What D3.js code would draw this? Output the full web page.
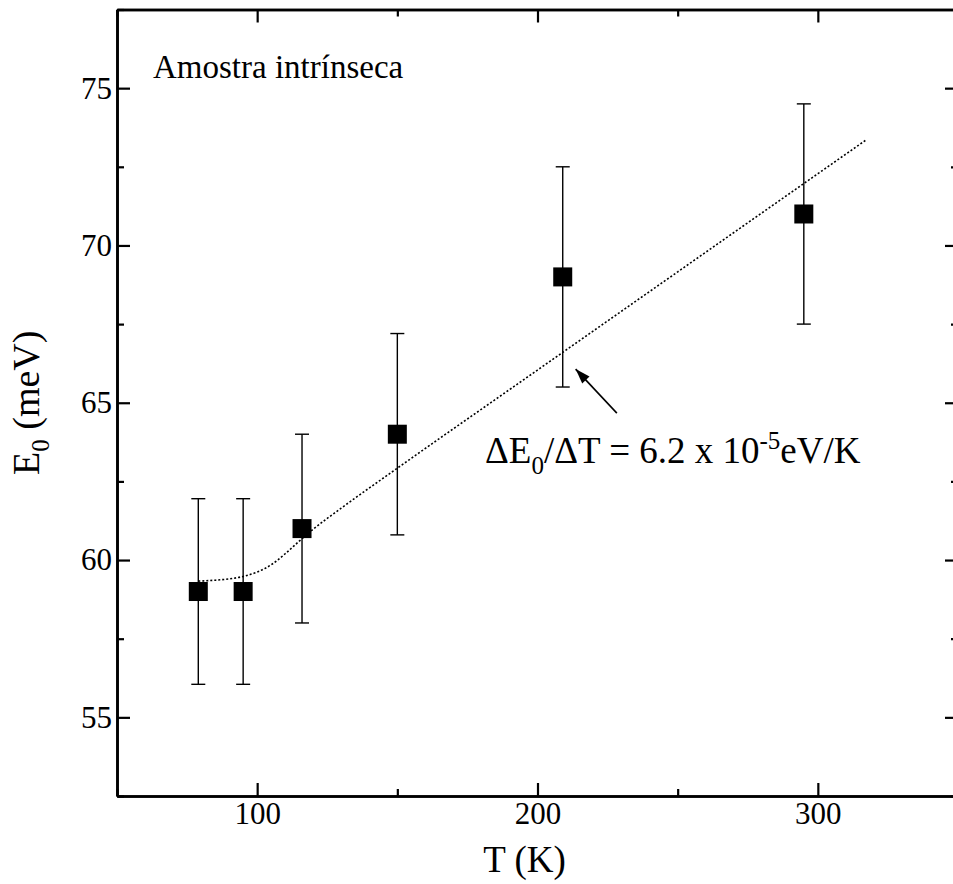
<!DOCTYPE html>
<html>
<head>
<meta charset="utf-8">
<script src="https://cdn.jsdelivr.net/npm/d3@7/dist/d3.min.js"></script>
<style>
  body { margin: 0; background: #fff; }
  svg text { font-family: "Liberation Serif", "DejaVu Serif", serif; fill: #000; }
</style>
</head>
<body>
<div id="wrapper"></div>
<script>
// measured points
const temps = [79, 95, 116, 150, 209, 295];
const energies = [59.0, 59.0, 61.0, 64.0, 69.0, 71.0];
const errors = [2.95, 2.95, 3.0, 3.2, 3.5, 3.5];

// fitted curve
const fitT = [79, 85, 90, 95, 100, 105, 110, 115, 120, 130, 150, 200, 250, 300, 317];
const fitE = [59.33, 59.36, 59.40, 59.48, 59.62, 59.85, 60.20, 60.60, 60.98, 61.65, 62.92, 66.04, 69.16, 72.28, 73.34];

const xMajor = [100, 200, 300];
const xMinor = [50, 150, 250, 350];
const yMajor = [55, 60, 65, 70, 75];
const yMinor = [52.5, 57.5, 62.5, 67.5, 72.5, 77.5];

const serif = '"Liberation Serif", "Times New Roman", serif';

const dimensions = {
  width: 953,
  height: 884,
  margin: { top: 9.5, right: -5, bottom: 88, left: 117 }
};
dimensions.boundedWidth = dimensions.width - dimensions.margin.left - dimensions.margin.right;
dimensions.boundedHeight = dimensions.height - dimensions.margin.top - dimensions.margin.bottom;

function drawChart() {
  const x = d3.scaleLinear().domain([50, 350]).range([0, dimensions.boundedWidth]);
  const y = d3.scaleLinear().domain([52.5, 77.5]).range([dimensions.boundedHeight, 0]);

  const svg = d3.select('#wrapper').append('svg')
    .attr('width', dimensions.width)
    .attr('height', dimensions.height);

  const bounds = svg.append('g')
    .attr('transform', `translate(${dimensions.margin.left}, ${dimensions.margin.top})`);

  const W = dimensions.boundedWidth, H = dimensions.boundedHeight;

  // axes: major + minor ticks on all four sides, pointing inward
  const addAxis = (gen, tr, vals, size, fmt, pad) => {
    const g = bounds.append('g').attr('transform', tr)
      .call(gen.tickValues(vals).tickSizeInner(-size).tickSizeOuter(0).tickPadding(pad || 0)
        .tickFormat(fmt || (() => '')));
    g.attr('font-family', serif);
    g.selectAll('.domain').attr('stroke', '#000').attr('stroke-width', 2.6);
    g.selectAll('.tick line').attr('stroke', '#000').attr('stroke-width', 2.2);
    g.selectAll('.tick text').style('font-size', '31px').style('font-family', serif);
    return g;
  };
  addAxis(d3.axisBottom(x), `translate(0,${H})`, xMajor, 13, d3.format('d'), 6);
  addAxis(d3.axisBottom(x), `translate(0,${H})`, xMinor, 7);
  addAxis(d3.axisTop(x), 'translate(0,0)', xMajor, 13);
  addAxis(d3.axisTop(x), 'translate(0,0)', xMinor, 7);
  addAxis(d3.axisLeft(y), 'translate(0,0)', yMajor, 13, d3.format('d'), 5);
  addAxis(d3.axisLeft(y), 'translate(0,0)', yMinor, 7);
  addAxis(d3.axisRight(y), `translate(${W},0)`, yMajor, 13);
  addAxis(d3.axisRight(y), `translate(${W},0)`, yMinor, 7);

  // axis titles
  bounds.append('text')
    .attr('x', x(200) - 13).attr('y', H + 76)
    .attr('text-anchor', 'middle')
    .style('font-size', '37px').style('font-family', serif)
    .text('T (K)');

  const yl = bounds.append('text')
    .attr('transform', `translate(${39 - dimensions.margin.left}, ${y(65.0)}) rotate(-90)`)
    .attr('text-anchor', 'middle')
    .style('font-size', '38px').style('font-family', serif);
  yl.append('tspan').text('E');
  yl.append('tspan').attr('dy', 10).style('font-size', '25px').text('0');
  yl.append('tspan').attr('dy', -10).text(' (meV)');

  // fitted curve
  const fit = fitT.map((t, i) => ({ t: t, e: fitE[i] }));
  bounds.append('path')
    .datum(fit)
    .attr('fill', 'none')
    .attr('stroke', '#000')
    .attr('stroke-width', 1.6)
    .attr('stroke-dasharray', '2,2')
    .attr('d', d3.line().curve(d3.curveMonotoneX).x((d) => x(d.t)).y((d) => y(d.e)));

  const data = temps.map((t, i) => ({ t: t, e: energies[i], err: errors[i] }));

  // error bars
  const eb = bounds.selectAll('.err').data(data).join('g').attr('class', 'err');
  eb.append('line')
    .attr('x1', (d) => x(d.t)).attr('x2', (d) => x(d.t))
    .attr('y1', (d) => y(d.e + d.err)).attr('y2', (d) => y(d.e - d.err))
    .attr('stroke', '#000').attr('stroke-width', 1.4);
  [1, -1].forEach((s) => {
    eb.append('line')
      .attr('x1', (d) => x(d.t) - 7).attr('x2', (d) => x(d.t) + 7)
      .attr('y1', (d) => y(d.e + s * d.err)).attr('y2', (d) => y(d.e + s * d.err))
      .attr('stroke', '#000').attr('stroke-width', 1.4);
  });

  // square markers
  bounds.selectAll('.pt').data(data).join('rect')
    .attr('class', 'pt')
    .attr('x', (d) => x(d.t) - 9.5).attr('y', (d) => y(d.e) - 9.5)
    .attr('width', 19).attr('height', 19)
    .attr('fill', '#000');

  // annotation arrow
  const tail = [x(228.3), y(64.67)], tip = [x(213.6), y(66.07)];
  bounds.append('line')
    .attr('x1', tail[0]).attr('y1', tail[1]).attr('x2', tip[0]).attr('y2', tip[1])
    .attr('stroke', '#000').attr('stroke-width', 1.6);
  const ang = Math.atan2(tip[1] - tail[1], tip[0] - tail[0]);
  const hl = 15, hw = 5;
  const bx = tip[0] - hl * Math.cos(ang), by = tip[1] - hl * Math.sin(ang);
  bounds.append('path')
    .attr('d', `M${tip[0]},${tip[1]}L${bx - hw * Math.sin(ang)},${by + hw * Math.cos(ang)}L${bx + hw * Math.sin(ang)},${by - hw * Math.cos(ang)}Z`)
    .attr('fill', '#000');

  // annotation text
  const note = bounds.append('text')
    .attr('x', 485 - dimensions.margin.left).attr('y', 463 - dimensions.margin.top)
    .style('font-size', '37px').style('font-family', serif);
  note.append('tspan').text('ΔE');
  note.append('tspan').attr('dy', 11).style('font-size', '25px').text('0');
  note.append('tspan').attr('dy', -11).text('/ΔT = 6.2 x 10');
  note.append('tspan').attr('dy', -14).style('font-size', '25px').text('-5');
  note.append('tspan').attr('dy', 14).text('eV/K');

  bounds.append('text')
    .attr('x', 153 - dimensions.margin.left).attr('y', 78 - dimensions.margin.top)
    .style('font-size', '33px').style('font-family', serif)
    .text('Amostra intrínseca');
}
drawChart();
</script>
</body>
</html>
